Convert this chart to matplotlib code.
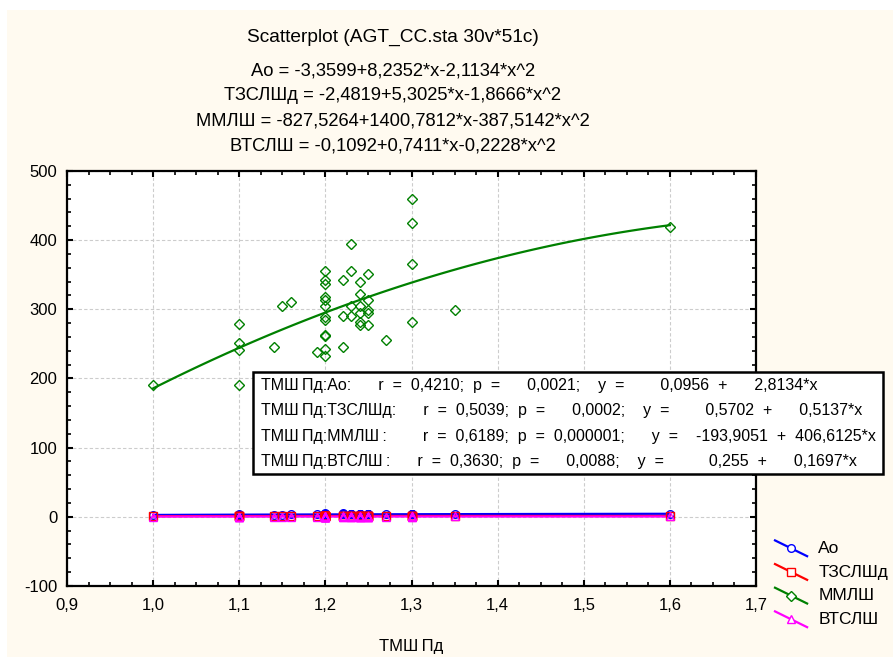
import matplotlib
matplotlib.use("Agg")
import matplotlib.pyplot as plt
import numpy as np
from matplotlib.lines import Line2D
from matplotlib.patches import Rectangle
from matplotlib.legend_handler import HandlerLine2D
from matplotlib.ticker import FuncFormatter, MultipleLocator, AutoMinorLocator

plt.rcParams['font.family'] = ['Liberation Sans', 'DejaVu Sans']

# TMSHPd values (one per case)
x_vals = [1.0,
          1.1, 1.1, 1.1, 1.1,
          1.14, 1.15, 1.16, 1.19,
          1.2, 1.2, 1.2, 1.2, 1.2, 1.2, 1.2, 1.2, 1.2, 1.2, 1.2, 1.2,
          1.22, 1.22, 1.22,
          1.23, 1.23, 1.23, 1.23,
          1.24, 1.24, 1.24, 1.24, 1.24, 1.24,
          1.25, 1.25, 1.25, 1.25, 1.25,
          1.27,
          1.3, 1.3, 1.3, 1.3,
          1.35, 1.6]

mmlsh = [191,
         279, 251, 241, 191,
         245, 305, 310, 239,
         356, 343, 337, 318, 313, 305, 289, 285, 263, 261, 242, 232,
         343, 291, 245,
         394, 355, 305, 291,
         339, 322, 305, 294, 282, 277,
         351, 314, 299, 294, 277,
         256,
         459, 425, 365, 282,
         299, 419]

ao = [2.9,
      3.2, 3.0, 3.4, 2.8,
      3.3, 3.1, 3.5, 3.6,
      6.0, 3.8, 3.5, 3.2, 3.9, 3.4, 4.1, 3.6, 3.3, 3.0, 3.7, 3.4,
      6.2, 3.9, 3.5,
      4.0, 3.6, 3.8, 3.4,
      3.9, 3.5, 3.7, 4.2, 3.3, 3.6,
      3.8, 4.0, 3.5, 3.7, 3.4,
      3.9,
      4.2, 3.8, 4.4, 3.6,
      4.1, 4.6]

tzslshd = [0.9,
           1.0, 1.1, 0.9, 1.0,
           1.1, 1.0, 1.2, 1.1,
           1.3, 1.2, 1.1, 1.0, 1.2, 1.1, 1.3, 1.0, 1.2, 1.1, 1.0, 1.2,
           1.3, 1.1, 1.2,
           1.2, 1.1, 1.3, 1.0,
           1.2, 1.1, 1.3, 1.2, 1.0, 1.1,
           1.2, 1.3, 1.1, 1.2, 1.0,
           1.2,
           1.3, 1.1, 1.2, 1.2,
           1.3, 1.2]

vtslsh = [0.40,
          0.42, 0.45, 0.40, 0.43,
          0.44, 0.45, 0.46, 0.44,
          0.50, 0.48, 0.46, 0.45, 0.47, 0.44, 0.49, 0.45, 0.46, 0.43, 0.47, 0.45,
          0.50, 0.46, 0.47,
          0.48, 0.46, 0.49, 0.45,
          0.48, 0.47, 0.49, 0.46, 0.45, 0.47,
          0.48, 0.50, 0.46, 0.47, 0.45,
          0.48,
          0.50, 0.47, 0.49, 0.48,
          0.49, 0.51]

# quadratic fits from the chart header: b0, b1, b2
coef_ao = [-3.3599, 8.2352, -2.1134]
coef_tz = [-2.4819, 5.3025, -1.8666]
coef_mm = [-827.5264, 1400.7812, -387.5142]
coef_vt = [-0.1092, 0.7411, -0.2228]

names = ["Ао", "ТЗСЛШд", "ММЛШ", "ВТСЛШ"]
colors = ["#0000ff", "#ff0000", "#008000", "#ff00ff"]
markers = ["o", "s", "D", "^"]

title = "Scatterplot (AGT_CC.sta 30v*51c)"
equations = ["Ао = -3,3599+8,2352*x-2,1134*x^2",
             "ТЗСЛШд = -2,4819+5,3025*x-1,8666*x^2",
             "ММЛШ = -827,5264+1400,7812*x-387,5142*x^2",
             "ВТСЛШ = -0,1092+0,7411*x-0,2228*x^2"]
x_title = "ТМШ\u2009Пд"

# linear regressions shown in the box
stats = ["ТМШ\u2009Пд:Ао:   r = 0,4210; p =   0,0021;  y =    0,0956 +   2,8134*x",
         "ТМШ\u2009Пд:ТЗСЛШд:   r = 0,5039; p =   0,0002;  y =    0,5702 +   0,5137*x ",
         "ТМШ\u2009Пд:ММЛШ\u2009:    r = 0,6189; p = 0,000001;   y =  -193,9051 + 406,6125*x",
         "ТМШ\u2009Пд:ВТСЛШ\u2009:   r = 0,3630; p =   0,0088;  y =     0,255 +   0,1697*x"]

W, H = 893, 657
fig = plt.figure(figsize=(W / 100, H / 100), dpi=100)
fig.patch.set_facecolor("white")
fig.patches.append(Rectangle((7 / W, 0), 1, 1 - 10 / H, transform=fig.transFigure,
                             facecolor="#fffaf0", edgecolor="none", zorder=-10))

ax = fig.add_axes([67 / W, 1 - 586 / H, (756 - 67) / W, (586 - 171) / H])
ax.set_facecolor("white")

xs = np.linspace(1.0, 1.6, 100)
series = [ao, tzslshd, mmlsh, vtslsh]
coefs = [coef_ao, coef_tz, coef_mm, coef_vt]
for vals, c, col, m in zip(series, coefs, colors, markers):
    fit = c[0] + c[1] * xs + c[2] * xs ** 2
    ax.plot(xs, fit, color=col, lw=1.6, zorder=3)
    ax.plot(x_vals, vals, ls="none", marker=m, ms=5.5 if m != "D" else 4.8,
            mfc="none", mec=col, mew=1.0, zorder=4)

ax.set_xlim(0.9, 1.7)
ax.set_ylim(-100, 500)
ax.xaxis.set_major_locator(MultipleLocator(0.1))
ax.xaxis.set_minor_locator(AutoMinorLocator(4))
ax.yaxis.set_major_locator(MultipleLocator(100))
ax.yaxis.set_minor_locator(AutoMinorLocator(5))
ax.xaxis.set_major_formatter(FuncFormatter(lambda v, p: f"{v:.1f}".replace(".", ",")))
ax.yaxis.set_major_formatter(FuncFormatter(lambda v, p: f"{v:.0f}"))
ax.tick_params(which="both", direction="in", top=True, right=True, labelsize=12, color="black")
ax.tick_params(which="major", length=4, width=1.5)
ax.tick_params(which="minor", length=3, width=1.2)
ax.tick_params(axis="x", pad=9)
ax.tick_params(axis="y", pad=7)
ax.grid(True, which="major", color="#cccccc", ls=(0, (3, 2)), lw=0.8)
ax.set_axisbelow(True)
for s in ax.spines.values():
    s.set_linewidth(1.6)
ax.set_xlabel(x_title, fontsize=12, labelpad=18)

# header
fig.text(393 / W, 1 - 37 / H, title, ha="center", va="center", fontsize=13.8)
for i, eq in enumerate(equations):
    fig.text(393 / W, 1 - (71 + 25 * i) / H, eq, ha="center", va="center", fontsize=13.2)

# statistics box
fig.patches.append(Rectangle((253 / W, 1 - 474 / H), (883 - 253) / W, (474 - 372) / H,
                             transform=fig.transFigure, facecolor="white",
                             edgecolor="black", lw=1.8, zorder=5))
box_text = "\n".join(s.replace(" ", "  ") for s in stats)
fig.text(261 / W, 1 - 423.5 / H, box_text, ha="left", va="center", fontsize=11.5,
         linespacing=1.84, zorder=6)


class DiagonalHandler(HandlerLine2D):
    def create_artists(self, legend, orig_handle, xdescent, ydescent, width, height, fontsize, trans):
        x0, x1 = -xdescent, -xdescent + width
        y0, y1 = -ydescent + height * 1.05, -ydescent - height * 0.25
        line = Line2D([x0, x1], [y0, y1], color=orig_handle.get_color(), lw=1.6)
        mark = Line2D([(x0 + x1) / 2], [(y0 + y1) / 2], ls="none",
                      marker=orig_handle.get_marker(), ms=5.5, mfc="white",
                      mec=orig_handle.get_color(), mew=1.0)
        line.set_transform(trans)
        mark.set_transform(trans)
        return [line, mark]


handles = [Line2D([], [], color=col, marker=m) for col, m in zip(colors, markers)]
fig.legend(handles, names, handler_map={Line2D: DiagonalHandler()},
           loc="upper left", bbox_to_anchor=(775 / W, 1 - 541 / H), frameon=False,
           fontsize=12.5, handlelength=1.85, handletextpad=0.65, labelspacing=0.49,
           borderaxespad=0, borderpad=0)

fig.savefig("out.png", dpi=100, facecolor=fig.get_facecolor())
